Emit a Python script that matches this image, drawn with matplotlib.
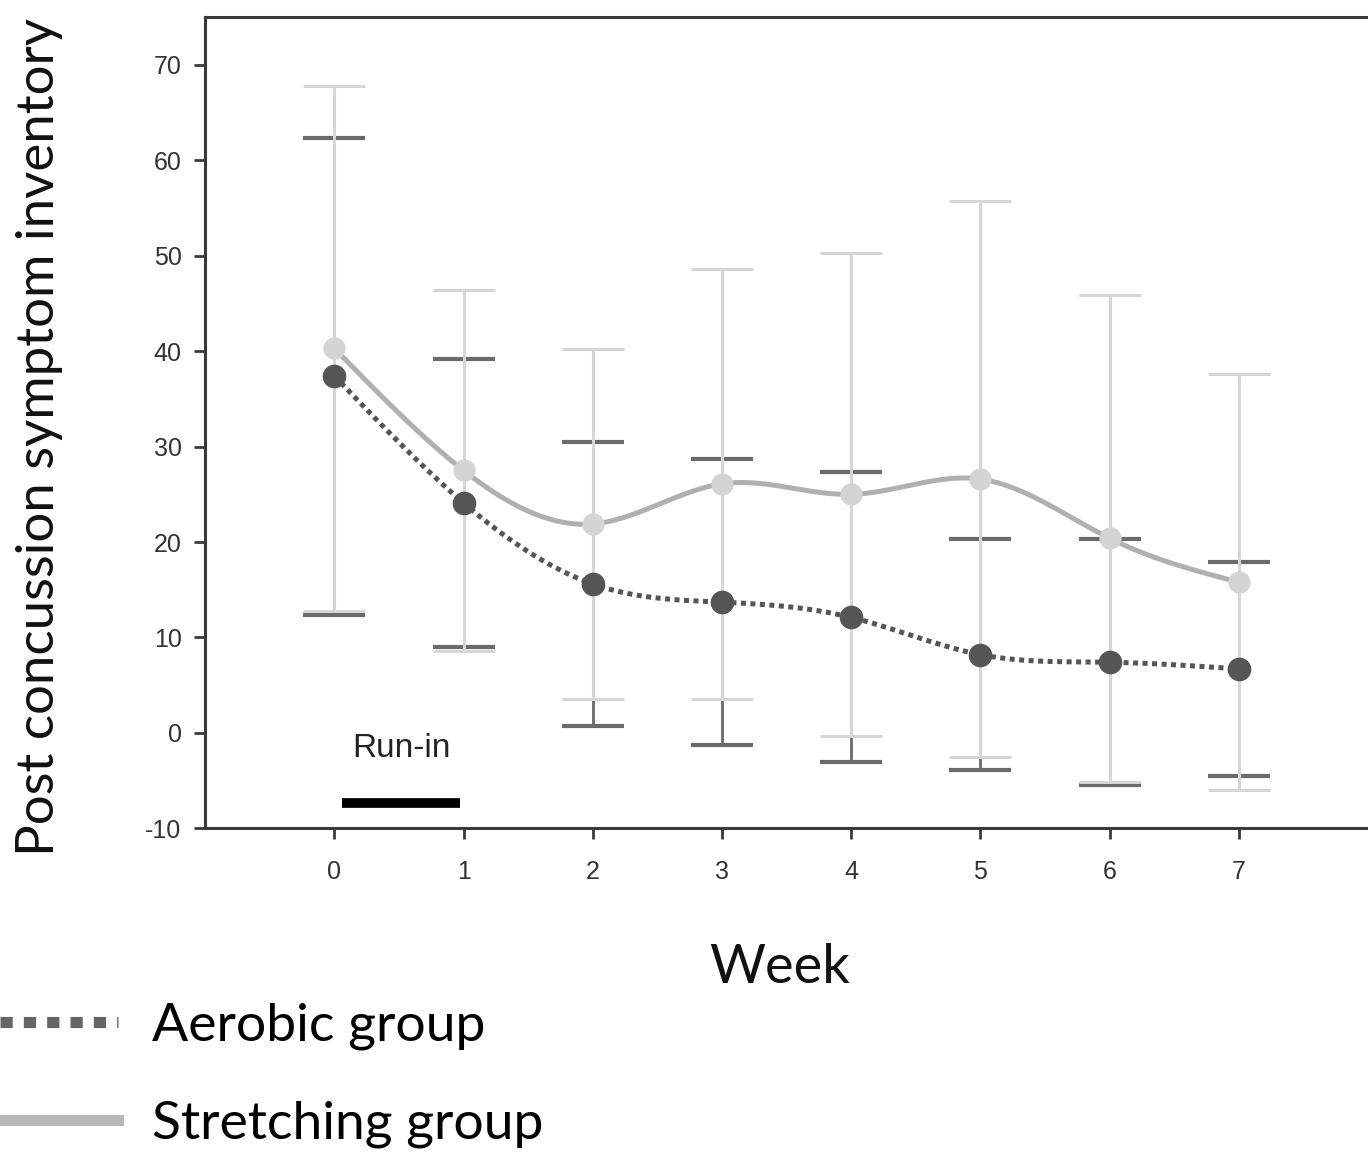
import numpy as np
import matplotlib
matplotlib.use("Agg")
import matplotlib.pyplot as plt
from matplotlib.lines import Line2D

plt.rcParams["axes.unicode_minus"] = False

# -----------------------
# DATA
# -----------------------
weeks = [0, 1, 2, 3, 4, 5, 6, 7]
aerobic_mean = [37.4, 24.1, 15.6, 13.7, 12.1, 8.2, 7.4, 6.7]
aerobic_sd = [25.0, 15.1, 14.9, 15.0, 15.2, 12.1, 12.9, 11.2]
stretch_mean = [40.3, 27.5, 21.9, 26.1, 25.0, 26.6, 20.4, 15.8]
stretch_sd = [27.5, 18.9, 18.3, 22.5, 25.3, 29.1, 25.5, 21.8]
yticks = [-10, 0, 10, 20, 30, 40, 50, 60, 70]
run_in = [0.06, 0.97]


# -----------------------
# natural cubic spline for the smoothed lines
# -----------------------
def smooth(x, y, n=300):
    x = np.asarray(x, float)
    y = np.asarray(y, float)
    k = len(x)
    h = np.diff(x)
    A = np.zeros((k, k))
    b = np.zeros(k)
    A[0, 0] = A[-1, -1] = 1
    for i in range(1, k - 1):
        A[i, i - 1] = h[i - 1]
        A[i, i] = 2 * (h[i - 1] + h[i])
        A[i, i + 1] = h[i]
        b[i] = 3 * ((y[i + 1] - y[i]) / h[i] - (y[i] - y[i - 1]) / h[i - 1])
    c = np.linalg.solve(A, b)
    xs = np.linspace(x[0], x[-1], n)
    ys = np.empty_like(xs)
    for j, xv in enumerate(xs):
        i = min(np.searchsorted(x, xv, side="right") - 1, k - 2)
        d = xv - x[i]
        bi = (y[i + 1] - y[i]) / h[i] - h[i] * (2 * c[i] + c[i + 1]) / 3
        di = (c[i + 1] - c[i]) / (3 * h[i])
        ys[j] = y[i] + bi * d + c[i] * d ** 2 + di * d ** 3
    return xs, ys


fig = plt.figure(figsize=(13.68, 11.52), dpi=100)
ax = fig.add_axes([0.150, 0.281, 0.85, 0.704])

# error bars: aerobic first so the light stretching stems sit on top
ax.errorbar(weeks, aerobic_mean, yerr=aerobic_sd, fmt="none", ecolor="#6a6a6a",
            elinewidth=2.0, capsize=22, capthick=3.0, zorder=2)
ax.errorbar(weeks, stretch_mean, yerr=stretch_sd, fmt="none", ecolor="#d6d6d6",
            elinewidth=2.2, capsize=22, capthick=2.2, zorder=3)

sx, sy = smooth(weeks, stretch_mean)
ax.plot(sx, sy, color="#b0b0b0", lw=3.6, zorder=4)
ax.plot(weeks, stretch_mean, "o", color="#d4d4d4", ms=15, zorder=5)

axx, axy = smooth(weeks, aerobic_mean)
ax.plot(axx, axy, color="#555555", lw=3.6, linestyle=(0, (1, 0.9)), zorder=6)
ax.plot(weeks, aerobic_mean, "o", color="#555555", ms=16, zorder=7)

# run-in bar
ax.plot(run_in, [-7.4, -7.4], color="black", lw=7, solid_capstyle="butt", zorder=8)
ax.text(np.mean(run_in), -1.6, "Run-in", ha="center", va="center",
        fontsize=24, family="Liberation Sans", color="#222222")

ax.set_xlim(-1, 8)
ax.set_ylim(-10, 75)
ax.set_xticks(weeks)
ax.set_yticks(yticks)
ax.spines["right"].set_visible(False)
for s in ["left", "top", "bottom"]:
    ax.spines[s].set_linewidth(2.2)
    ax.spines[s].set_color("#3a3a3a")
ax.tick_params(axis="both", direction="out", length=8, width=2, color="#3a3a3a",
               labelsize=18, labelcolor="#333333")
ax.tick_params(axis="x", pad=15)
ax.tick_params(axis="y", pad=9)
for lab in ax.get_xticklabels() + ax.get_yticklabels():
    lab.set_family("Liberation Sans")

fig.text(40 / 1368, 0.621, "Post concussion symptom inventory", rotation=90,
         ha="center", va="center", fontsize=38, family="Lato", color="#111111")
fig.text(0.570, 0.160, "Week", ha="center", va="center", fontsize=39,
         family="Lato", color="#111111")

handles = [
    Line2D([], [], color="#666666", lw=8, linestyle=(0, (1.1, 1.0))),
    Line2D([], [], color="#b8b8b8", lw=8),
]
fig.legend(handles, ["Aerobic group", "Stretching group"], loc="upper left",
           bbox_to_anchor=(0.0, 0.130), frameon=False, borderpad=0,
           borderaxespad=0, handlelength=2.2, handletextpad=0.65,
           labelspacing=0.95, prop={"family": "Lato", "size": 38.5})

fig.savefig("out.png", dpi=100)
